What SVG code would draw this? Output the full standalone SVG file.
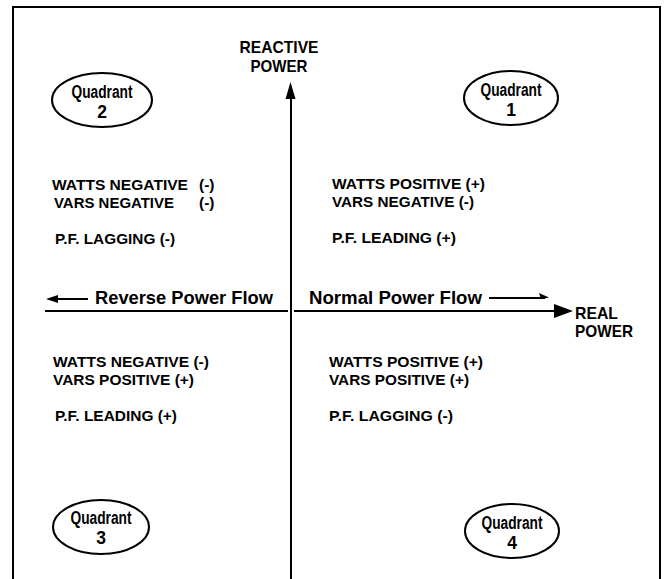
<svg xmlns="http://www.w3.org/2000/svg" width="665" height="579" viewBox="0 0 665 579">
<style>
text{font-family:"Liberation Sans",Arial,sans-serif;font-weight:bold;fill:#000}
.t{font-size:15.5px}
.q{font-size:17.5px;text-anchor:middle}
.f{font-size:19px}
.ax{font-size:17px}
.e{fill:none;stroke:#000;stroke-width:2}
.ln{stroke:#000;stroke-width:2;fill:none}
</style>
<rect x="0" y="0" width="665" height="579" fill="#fff"/>
<path d="M13,579 V7 H660 V579" class="ln"/>
<g id="connectors">
<line x1="291" y1="95" x2="291" y2="579" class="ln"/>
<path d="M290.5,82 L285.5,99 L295.5,99 Z" fill="#000"/>
<line x1="45" y1="311" x2="288" y2="311" class="ln" stroke-width="2.5"/>
<line x1="294" y1="311" x2="556" y2="311" class="ln" stroke-width="2.5"/>
<path d="M573,311 L554,304 L554,318 Z" fill="#000"/>
<line x1="56" y1="299" x2="88" y2="299" class="ln"/>
<path d="M46,299 L58,295 L58,303 Z" fill="#000"/>
<line x1="489" y1="298" x2="545" y2="298" class="ln"/>
<path d="M549,297.5 L539,293 L541,299 Z" fill="#000"/>
</g>
<g id="axis-y-label">
<text class="ax" x="279" y="53" text-anchor="middle" textLength="79" lengthAdjust="spacingAndGlyphs">REACTIVE</text>
<text class="ax" x="279" y="72" text-anchor="middle" textLength="57" lengthAdjust="spacingAndGlyphs">POWER</text>
</g>
<g id="axis-x-label">
<text class="ax" x="575" y="319" textLength="43" lengthAdjust="spacingAndGlyphs">REAL</text>
<text class="ax" x="575" y="337" textLength="58" lengthAdjust="spacingAndGlyphs">POWER</text>
</g>
<g id="reverse-flow"><text class="f" x="95" y="304" textLength="178" lengthAdjust="spacingAndGlyphs">Reverse Power Flow</text></g>
<g id="normal-flow"><text class="f" x="309" y="304" textLength="173" lengthAdjust="spacingAndGlyphs">Normal Power Flow</text></g>
<g id="q2">
<ellipse cx="102" cy="100" rx="50" ry="27" class="e"/>
<text class="q" x="102" y="98" textLength="61" lengthAdjust="spacingAndGlyphs">Quadrant</text>
<text class="q" x="102" y="118">2</text>
</g>
<g id="q1">
<ellipse cx="511" cy="98" rx="47" ry="27" class="e"/>
<text class="q" x="511" y="96" textLength="61" lengthAdjust="spacingAndGlyphs">Quadrant</text>
<text class="q" x="511" y="116">1</text>
</g>
<g id="q3">
<ellipse cx="101" cy="527" rx="48" ry="27" class="e"/>
<text class="q" x="101" y="524" textLength="61" lengthAdjust="spacingAndGlyphs">Quadrant</text>
<text class="q" x="101" y="544">3</text>
</g>
<g id="q4">
<ellipse cx="512" cy="531" rx="47" ry="27" class="e"/>
<text class="q" x="512" y="529" textLength="61" lengthAdjust="spacingAndGlyphs">Quadrant</text>
<text class="q" x="512" y="549">4</text>
</g>
<g id="q2-text">
<text class="t" x="52" y="190" textLength="136" lengthAdjust="spacingAndGlyphs">WATTS NEGATIVE</text>
<text class="t" x="199" y="190">(-)</text>
<text class="t" x="54" y="208" textLength="120" lengthAdjust="spacingAndGlyphs">VARS NEGATIVE</text>
<text class="t" x="199" y="208">(-)</text>
<text class="t" x="55" y="244" textLength="120" lengthAdjust="spacingAndGlyphs">P.F. LAGGING (-)</text>
</g>
<g id="q1-text">
<text class="t" x="332" y="189" textLength="153" lengthAdjust="spacingAndGlyphs">WATTS POSITIVE (+)</text>
<text class="t" x="332" y="207" textLength="142" lengthAdjust="spacingAndGlyphs">VARS NEGATIVE (-)</text>
<text class="t" x="332" y="243" textLength="124" lengthAdjust="spacingAndGlyphs">P.F. LEADING (+)</text>
</g>
<g id="q3-text">
<text class="t" x="53" y="367" textLength="156" lengthAdjust="spacingAndGlyphs">WATTS NEGATIVE (-)</text>
<text class="t" x="53" y="385" textLength="141" lengthAdjust="spacingAndGlyphs">VARS POSITIVE (+)</text>
<text class="t" x="55" y="421" textLength="122" lengthAdjust="spacingAndGlyphs">P.F. LEADING (+)</text>
</g>
<g id="q4-text">
<text class="t" x="329" y="367" textLength="154" lengthAdjust="spacingAndGlyphs">WATTS POSITIVE (+)</text>
<text class="t" x="329" y="385" textLength="140" lengthAdjust="spacingAndGlyphs">VARS POSITIVE (+)</text>
<text class="t" x="329" y="421" textLength="124" lengthAdjust="spacingAndGlyphs">P.F. LAGGING (-)</text>
</g>
</svg>
